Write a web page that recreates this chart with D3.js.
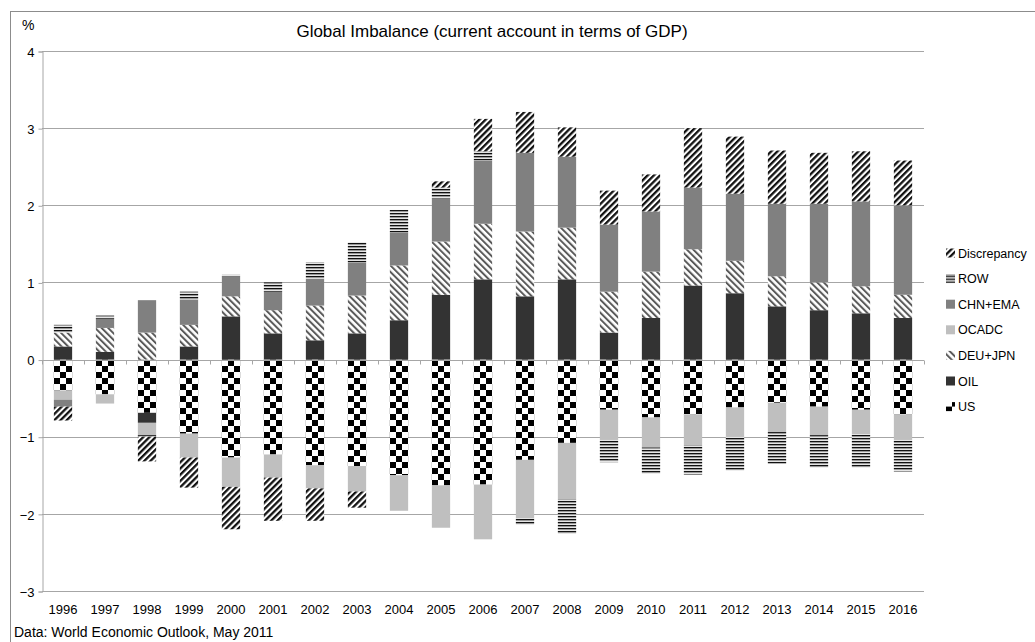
<!doctype html>
<html>
<head>
<meta charset="utf-8" />
<title>Global Imbalance</title>
<script src="https://cdn.jsdelivr.net/npm/d3@7"></script>
<style>
	body { margin: 0; background: #fff; }
	svg { display: block; font-family: "Liberation Sans", Arial, sans-serif; }
	.grid line { stroke: #a6a6a6; }
	.tick text { fill: #000; }
</style>
</head>
<body>
<div id="app"></div>
<script>
// values, % of world GDP
const years = ['1996','1997','1998','1999','2000','2001','2002','2003','2004','2005','2006',
	'2007','2008','2009','2010','2011','2012','2013','2014','2015','2016'];
const US    = [-0.40,-0.45,-0.69,-0.96,-1.27,-1.23,-1.37,-1.38,-1.50,-1.63,-1.62,-1.30,-1.08,-0.65,-0.75,-0.71,-0.62,-0.56,-0.61,-0.65,-0.71];
const OIL   = [0.17, 0.10,-0.13, 0.17, 0.56, 0.34, 0.25, 0.34, 0.51, 0.84, 1.04, 0.82, 1.04, 0.35, 0.54, 0.96, 0.86, 0.69, 0.64, 0.60, 0.54];
const DEUJPN= [0.18, 0.31, 0.35, 0.28, 0.26, 0.30, 0.45, 0.49, 0.71, 0.69, 0.72, 0.84, 0.67, 0.53, 0.60, 0.47, 0.42, 0.39, 0.36, 0.35, 0.30];
const OCADC = [-0.12,-0.12,-0.16,-0.31,-0.38,-0.30,-0.30,-0.33,-0.46,-0.55,-0.71,-0.76,-0.73,-0.39,-0.39,-0.40,-0.38,-0.38,-0.37,-0.32,-0.33];
const CHNEMA= [-0.09, 0.12, 0.42, 0.33, 0.26, 0.24, 0.35, 0.43, 0.43, 0.56, 0.82, 1.02, 0.92, 0.87, 0.78, 0.80, 0.87, 0.94, 1.02, 1.10, 1.16];
const ROW   = [0.10, 0.04,-0.02, 0.10, 0.02, 0.12, 0.21, 0.26, 0.29, 0.14, 0.12,-0.08,-0.45,-0.29,-0.34,-0.38,-0.44,-0.41,-0.42,-0.43,-0.41];
const DISC  = [-0.18, 0.00,-0.32,-0.39,-0.55,-0.56,-0.42,-0.21, 0.00, 0.08, 0.42, 0.53, 0.38, 0.44, 0.48, 0.77, 0.74, 0.69, 0.66, 0.65, 0.58];
const seriesNames = ['US','OIL','DEU+JPN','OCADC','CHN+EMA','ROW','Discrepancy'];
const seriesValues = [US, OIL, DEUJPN, OCADC, CHNEMA, ROW, DISC];
const yTicks = [-3,-2,-1,0,1,2,3,4];

const W = 1035, H = 642;
const svg = d3.select('#app').append('svg').attr('width', W).attr('height', H);

// fill patterns, one per series
const defs = svg.append('defs');
function pat(id, w, h, tf) {
	const p = defs.append('pattern').attr('id', id).attr('patternUnits', 'userSpaceOnUse')
		.attr('width', w).attr('height', h);
	if (tf) p.attr('patternTransform', tf);
	p.append('rect').attr('width', w).attr('height', h).attr('fill', '#fff');
	return p;
}
let p = pat('pUS', 12, 12);
p.append('rect').attr('width', 6).attr('height', 6).attr('fill', '#000');
p.append('rect').attr('x', 6).attr('y', 6).attr('width', 6).attr('height', 6).attr('fill', '#000');
p = pat('pDISC', 4.4, 10, 'rotate(45)');
p.append('rect').attr('width', 2.3).attr('height', 10).attr('fill', '#111');
p = pat('pDEU', 4.6, 10, 'rotate(-45)');
p.append('rect').attr('width', 2).attr('height', 10).attr('fill', '#5a5a5a');
p = pat('pROW', 10, 3);
p.append('rect').attr('width', 10).attr('height', 1.5).attr('fill', '#111');
p.append('rect').attr('y', 1.5).attr('width', 10).attr('height', 0.8).attr('fill', '#aaa');

const fills = {
	'US': 'url(#pUS)', 'OIL': '#333333', 'DEU+JPN': 'url(#pDEU)', 'OCADC': '#bfbfbf',
	'CHN+EMA': '#808080', 'ROW': 'url(#pROW)', 'Discrepancy': 'url(#pDISC)'
};

// chart border (runs off the right and bottom of the window)
svg.append('rect').attr('x', 10.5).attr('y', 11.5).attr('width', 1040).attr('height', 640)
	.attr('fill', 'none').attr('stroke', '#8c8c8c');

const plotL = 42, plotR = 924, plotT = 51, plotB = 591;
const x = d3.scaleBand().domain(years).range([plotL, plotR]).paddingInner(0.565).paddingOuter(0.2825);
const y = d3.scaleLinear().domain([-3, 4]).range([plotB, plotT]);

// gridlines
svg.append('g').attr('class', 'grid').selectAll('line')
	.data(yTicks.filter(d => d !== 0))
	.join('line')
	.attr('x1', plotL).attr('x2', plotR)
	.attr('y1', d => Math.round(y(d)) + 0.5).attr('y2', d => Math.round(y(d)) + 0.5);

// y axis
const yAxis = svg.append('g').attr('transform', `translate(${plotL + 0.5},0.5)`)
	.call(d3.axisLeft(y).tickValues(yTicks).tickSize(4).tickPadding(4)
		.tickFormat(d => d < 0 ? '\u2212' + Math.abs(d) : d));
yAxis.selectAll('line, path').attr('stroke', '#a6a6a6');
yAxis.selectAll('text').attr('font-size', 13).attr('dy', '0.36em');

svg.append('text').attr('x', 22).attr('y', 30).attr('font-size', 14).text('%');

// stacked bars
const rows = years.map((yr, i) => {
	const r = { year: yr };
	seriesNames.forEach((s, k) => { r[s] = seriesValues[k][i]; });
	return r;
});
const stacked = d3.stack().keys(seriesNames).offset(d3.stackOffsetDiverging)(rows);
svg.append('g').selectAll('g')
	.data(stacked)
	.join('g')
	.attr('fill', d => fills[d.key])
	.selectAll('rect')
	.data(d => d.filter(v => v[1] - v[0] !== 0))
	.join('rect')
	.attr('x', d => x(d.data.year))
	.attr('width', x.bandwidth())
	.attr('y', d => y(d[1]))
	.attr('height', d => y(d[0]) - y(d[1]));

// x axis at zero, ticks between categories
const xg = svg.append('g').attr('transform', `translate(0,${Math.round(y(0)) + 0.5})`);
xg.append('line').attr('x1', plotL).attr('x2', plotR).attr('stroke', '#a6a6a6');
xg.selectAll('line.tk')
	.data(d3.range(years.length + 1))
	.join('line')
	.attr('class', 'tk')
	.attr('x1', i => Math.round(plotL + i * x.step()) + 0.5)
	.attr('x2', i => Math.round(plotL + i * x.step()) + 0.5)
	.attr('y1', 0).attr('y2', 4)
	.attr('stroke', '#a6a6a6');

svg.append('g').selectAll('text')
	.data(years)
	.join('text')
	.attr('x', d => x(d) + x.bandwidth() / 2)
	.attr('y', 614)
	.attr('text-anchor', 'middle')
	.attr('font-size', 13)
	.text(d => d);

// title and source
svg.append('text').attr('x', 492).attr('y', 37).attr('text-anchor', 'middle')
	.attr('font-size', 17).text('Global Imbalance (current account in terms of GDP)');
svg.append('text').attr('x', 14).attr('y', 637).attr('font-size', 14)
	.text('Data: World Economic Outlook, May 2011');

// legend, reversed order like the source
const legend = svg.append('g').selectAll('g')
	.data(seriesNames.slice().reverse())
	.join('g')
	.attr('transform', (d, i) => `translate(946,${253 + i * 25.6})`);
legend.append('rect').attr('x', 0).attr('y', -4.5).attr('width', 9).attr('height', 9)
	.attr('fill', d => fills[d]);
legend.append('text').attr('x', 12).attr('y', 0).attr('dy', '0.36em')
	.attr('font-size', 12.5).text(d => d);
</script>
</body>
</html>
